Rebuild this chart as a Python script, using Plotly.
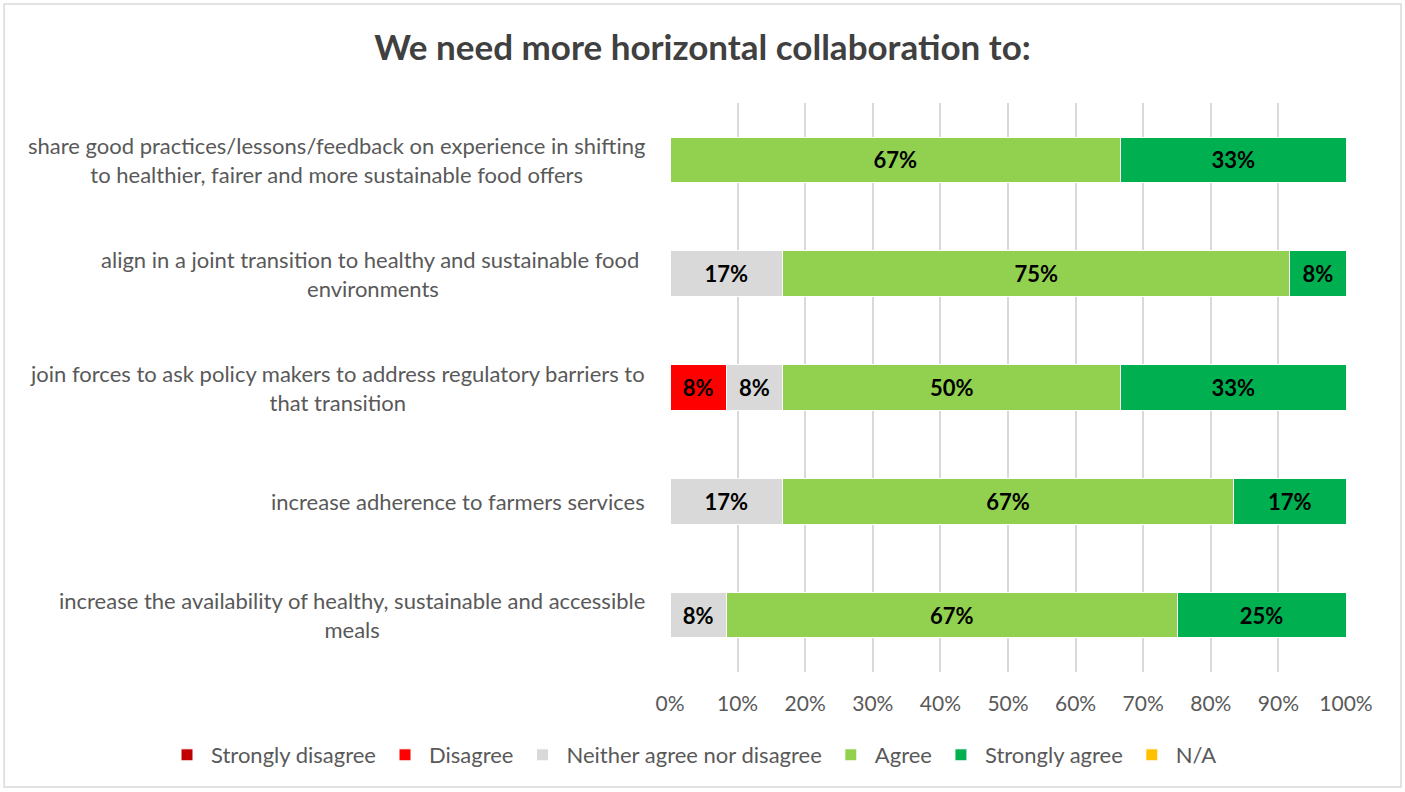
import plotly.graph_objects as go

# Survey statements (top to bottom) and response shares per answer category
categories = [
    "share good practices/lessons/feedback on experience in shifting<br>to healthier, fairer and more sustainable food offers",
    "align in a joint transition to healthy and sustainable food <br>environments",
    "join forces to ask policy makers to address regulatory barriers to<br>that transition",
    "increase adherence to farmers services",
    "increase the availability of healthy, sustainable and accessible<br>meals",
]
keys = ["c1", "c2", "c3", "c4", "c5"]

# share of 12 respondents per answer
strongly_disagree = [None, None, None, None, None]
disagree = [None, None, 1 / 12, None, None]
neither = [None, 2 / 12, 1 / 12, 2 / 12, 1 / 12]
agree = [8 / 12, 9 / 12, 6 / 12, 8 / 12, 8 / 12]
strongly_agree = [4 / 12, 1 / 12, 4 / 12, 2 / 12, 3 / 12]
not_applicable = [None, None, None, None, None]

series = [
    ("Strongly disagree", strongly_disagree, "#C00000"),
    ("Disagree", disagree, "#FF0000"),
    ("Neither agree nor disagree", neither, "#D9D9D9"),
    ("Agree", agree, "#92D050"),
    ("Strongly agree", strongly_agree, "#00B050"),
    ("N/A", not_applicable, "#FFC000"),
]

FONT = "Lato"
GREY_TEXT = "#595959"

fig = go.Figure()
for name, vals, color in series:
    fig.add_trace(go.Bar(
        name=name,
        y=keys,
        x=vals,
        orientation="h",
        marker=dict(color=color, line=dict(color="white", width=1)),
        texttemplate="%{x:.0%}",
        textposition="inside",
        insidetextanchor="middle",
        textangle=0,
        insidetextfont=dict(family=FONT, size=22, color="black", weight="bold"),
        hoverinfo="skip",
    ))

# category labels, centred multi-line text right-aligned against the plot
for key, label in zip(keys, categories):
    fig.add_annotation(
        x=-0.034, xref="paper", y=key, yref="y",
        text=label, showarrow=False,
        xanchor="right", yanchor="middle", align="center",
        font=dict(family=FONT, size=22, color=GREY_TEXT),
    )

# thin outer frame around the chart
fig.add_shape(
    type="rect", xref="paper", yref="paper",
    x0=-0.985, x1=1.0814, y0=-0.2021, y1=1.174,
    line=dict(color="#D9D9D9", width=1.5), fillcolor="rgba(0,0,0,0)", layer="below",
)

fig.update_layout(
    width=1405, height=792,
    margin=dict(l=670, r=59, t=103, b=120),
    barmode="stack",
    bargap=0.6,
    paper_bgcolor="white",
    plot_bgcolor="white",
    title=dict(
        text="We need more horizontal collaboration to:",
        x=0.5, xanchor="center", xref="container",
        y=1 - 48 / 792, yanchor="middle", yref="container",
        font=dict(family=FONT, size=35, color="#404040", weight="bold"),
    ),
    xaxis=dict(
        range=[0, 1],
        tickvals=[i / 10 for i in range(11)],
        tickformat=".0%",
        showgrid=True, gridcolor="#D9D9D9", gridwidth=2,
        zeroline=False, showline=False,
        ticks="outside", ticklen=13, tickcolor="rgba(0,0,0,0)",
        tickfont=dict(family=FONT, size=21, color=GREY_TEXT),
    ),
    yaxis=dict(
        autorange="reversed",
        showticklabels=False, showgrid=False, zeroline=False, showline=False,
    ),
    legend=dict(
        orientation="h",
        x=(163 - 670) / 676, xanchor="left",
        y=(672 - 755) / 569, yanchor="middle",
        itemwidth=38,
        font=dict(family=FONT, size=22, color=GREY_TEXT),
        bgcolor="rgba(0,0,0,0)",
        traceorder="normal",
        itemclick=False, itemdoubleclick=False,
    ),
    showlegend=True,
)

fig.write_html("out.html")
